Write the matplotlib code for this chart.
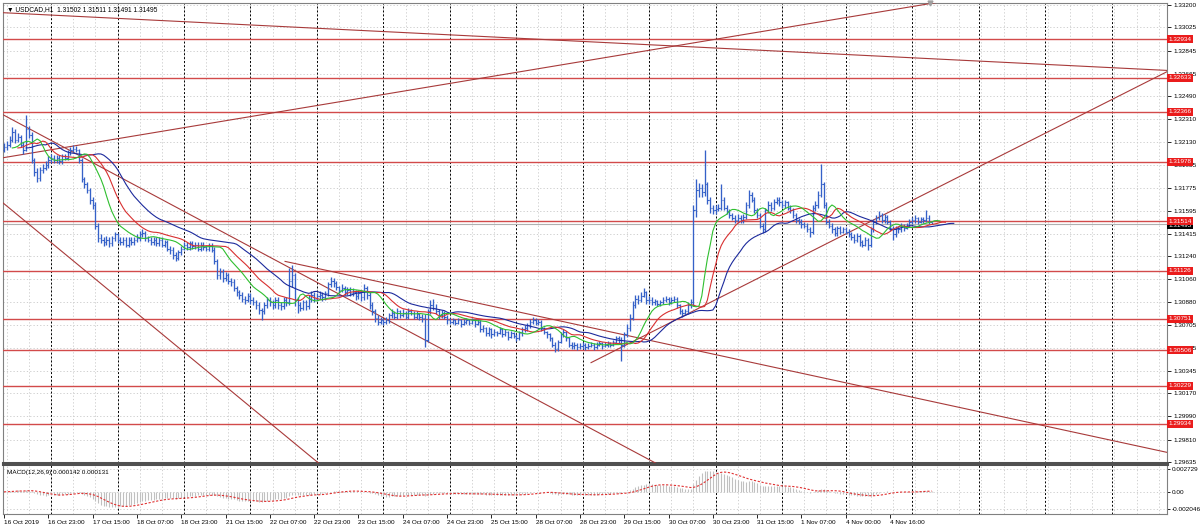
import numpy as np
import pandas as pd
import matplotlib
matplotlib.use('Agg')
import matplotlib.pyplot as plt

plt.rcParams['font.family'] = ['Liberation Sans', 'DejaVu Sans']

# USDCAD H1, one value per bar, 16 Oct 2019 07:00 .. 5 Nov 2019 07:00
closes = [
    # 16 Oct
    1.3209, 1.3211, 1.3215, 1.3221, 1.3215, 1.3217, 1.3211, 1.3207, 1.3223, 1.3219, 1.3199, 1.3190, 1.3185, 1.3191, 1.3193, 1.3195, 1.3199,
    # 17 Oct
    1.3201, 1.3199, 1.3201, 1.3198, 1.3202, 1.3201, 1.3205, 1.3207, 1.3208, 1.3207, 1.3199, 1.3184, 1.3180, 1.3176, 1.3168, 1.3164, 1.3148, 1.3138, 1.3137, 1.3135, 1.3137, 1.3134, 1.3138, 1.3141,
    # 18 Oct
    1.3137, 1.3135, 1.3137, 1.3133, 1.3137, 1.3135, 1.3137, 1.3138, 1.3141, 1.3142, 1.3138, 1.3137, 1.3135, 1.3137, 1.3134, 1.3137, 1.3133, 1.3135, 1.3130, 1.3129, 1.3125, 1.3123, 1.3127, 1.3130,
    # 21 Oct
    1.3133, 1.3131, 1.3134, 1.3132, 1.3133, 1.3130, 1.3133, 1.3131, 1.3130, 1.3132, 1.3129, 1.3120, 1.3109, 1.3112, 1.3107, 1.3109, 1.3105, 1.3104, 1.3099, 1.3096, 1.3094, 1.3091, 1.3090, 1.3093,
    # 22 Oct
    1.3090, 1.3088, 1.3086, 1.3082, 1.3081, 1.3086, 1.3090, 1.3088, 1.3086, 1.3090, 1.3086, 1.3085, 1.3090, 1.3088, 1.3105, 1.3109, 1.3090, 1.3086, 1.3084, 1.3088, 1.3085, 1.3091, 1.3094, 1.3091,
    # 23 Oct
    1.3093, 1.3094, 1.3092, 1.3095, 1.3102, 1.3105, 1.3103, 1.3100, 1.3098, 1.3099, 1.3096, 1.3098, 1.3095, 1.3096, 1.3093, 1.3095, 1.3092, 1.3099, 1.3094, 1.3086, 1.3081, 1.3076, 1.3073, 1.3074,
    # 24 Oct
    1.3073, 1.3074, 1.3078, 1.3080, 1.3077, 1.3081, 1.3078, 1.3080, 1.3077, 1.3081, 1.3080, 1.3077, 1.3079, 1.3077, 1.3076, 1.3059, 1.3081, 1.3086, 1.3084, 1.3081, 1.3078, 1.3080, 1.3077, 1.3074,
    # 25 Oct
    1.3073, 1.3074, 1.3072, 1.3074, 1.3071, 1.3073, 1.3074, 1.3072, 1.3074, 1.3071, 1.3073, 1.3067, 1.3068, 1.3064, 1.3067, 1.3063, 1.3065, 1.3064, 1.3067, 1.3063, 1.3065, 1.3061, 1.3064, 1.3062,
    # 28 Oct
    1.3060, 1.3064, 1.3067, 1.3068, 1.3070, 1.3073, 1.3074, 1.3072, 1.3073, 1.3068, 1.3065, 1.3063, 1.3060, 1.3055, 1.3052, 1.3057, 1.3063, 1.3065, 1.3060, 1.3055, 1.3054, 1.3055, 1.3053, 1.3054,
    # 29 Oct
    1.3055, 1.3053, 1.3054, 1.3055, 1.3053, 1.3055, 1.3056, 1.3054, 1.3055, 1.3056, 1.3055, 1.3057, 1.3060, 1.3059, 1.3055, 1.3063, 1.3068, 1.3076, 1.3086, 1.3091, 1.3090, 1.3093, 1.3096, 1.3090,
    # 30 Oct
    1.3090, 1.3088, 1.3089, 1.3087, 1.3088, 1.3090, 1.3091, 1.3088, 1.3090, 1.3091, 1.3086, 1.3081, 1.3080, 1.3081, 1.3086, 1.3088, 1.3160, 1.3176, 1.3177, 1.3174, 1.3180, 1.3168, 1.3162, 1.3160,
    # 31 Oct
    1.3161, 1.3162, 1.3168, 1.3162, 1.3159, 1.3156, 1.3154, 1.3152, 1.3154, 1.3152, 1.3155, 1.3164, 1.3172, 1.3168, 1.3160, 1.3156, 1.3148, 1.3145, 1.3160, 1.3164, 1.3162, 1.3166, 1.3168, 1.3166,
    # 1 Nov
    1.3164, 1.3166, 1.3162, 1.3160, 1.3156, 1.3152, 1.3151, 1.3149, 1.3148, 1.3145, 1.3143, 1.3162, 1.3164, 1.3172, 1.3180, 1.3164, 1.3151, 1.3148, 1.3145, 1.3142, 1.3146, 1.3143, 1.3145,
    # 4 Nov - 5 Nov
    1.3143, 1.3141, 1.3139, 1.3137, 1.3140, 1.3135, 1.3133, 1.3137, 1.3133, 1.3145, 1.3151, 1.3154, 1.3156, 1.3152, 1.3155, 1.3151, 1.3146, 1.3141, 1.3146, 1.3145, 1.3148, 1.3146, 1.3148, 1.3151, 1.3152, 1.3154, 1.3151, 1.3153, 1.3152, 1.3154, 1.3151, 1.31495,
]
highs = [
    1.3212, 1.3214, 1.3218, 1.3225, 1.3223, 1.3220, 1.3219, 1.3213, 1.3234, 1.3226, 1.3221, 1.3201, 1.3193, 1.3194, 1.3196, 1.3198, 1.3202,
    1.3204, 1.3203, 1.3203, 1.3203, 1.3204, 1.3204, 1.3207, 1.3209, 1.3211, 1.3210, 1.3208, 1.3201, 1.3186, 1.3182, 1.3177, 1.3170, 1.3166, 1.3150, 1.3141, 1.3139, 1.3140, 1.3139, 1.3140, 1.3143,
    1.3142, 1.3139, 1.3139, 1.3139, 1.3139, 1.3139, 1.3139, 1.3141, 1.3144, 1.3145, 1.3144, 1.3140, 1.3139, 1.3139, 1.3139, 1.3139, 1.3139, 1.3137, 1.3137, 1.3132, 1.3131, 1.3127, 1.3129, 1.3132,
    1.3135, 1.3135, 1.3136, 1.3136, 1.3135, 1.3135, 1.3135, 1.3135, 1.3133, 1.3134, 1.3134, 1.3131, 1.3122, 1.3115, 1.3114, 1.3112, 1.3111, 1.3107, 1.3106, 1.3101, 1.3098, 1.3096, 1.3093, 1.3095,
    1.3095, 1.3092, 1.3090, 1.3088, 1.3084, 1.3088, 1.3092, 1.3092, 1.3090, 1.3092, 1.3092, 1.3088, 1.3092, 1.3092, 1.3115, 1.3117, 1.3111, 1.3092, 1.3088, 1.3090, 1.3090, 1.3094, 1.3097, 1.3096,
    1.3095, 1.3097, 1.3096, 1.3097, 1.3104, 1.3108, 1.3107, 1.3105, 1.3101, 1.3102, 1.3101, 1.3100, 1.3100, 1.3099, 1.3098, 1.3098, 1.3097, 1.3102, 1.3101, 1.3096, 1.3088, 1.3083, 1.3078, 1.3077,
    1.3076, 1.3077, 1.3080, 1.3083, 1.3081, 1.3084, 1.3082, 1.3083, 1.3081, 1.3084, 1.3083, 1.3081, 1.3081, 1.3080, 1.3079, 1.3079, 1.3083, 1.3090, 1.3091, 1.3087, 1.3083, 1.3082, 1.3081, 1.3078,
    1.3076, 1.3076, 1.3075, 1.3076, 1.3075, 1.3075, 1.3076, 1.3075, 1.3076, 1.3075, 1.3075, 1.3074, 1.3070, 1.3069, 1.3069, 1.3068, 1.3067, 1.3066, 1.3069, 1.3068, 1.3067, 1.3066, 1.3066, 1.3065,
    1.3063, 1.3066, 1.3069, 1.3070, 1.3072, 1.3075, 1.3077, 1.3076, 1.3075, 1.3074, 1.3069, 1.3066, 1.3064, 1.3061, 1.3057, 1.3059, 1.3065, 1.3067, 1.3066, 1.3061, 1.3057, 1.3057, 1.3056, 1.3056,
    1.3057, 1.3056, 1.3056, 1.3057, 1.3056, 1.3057, 1.3058, 1.3057, 1.3057, 1.3058, 1.3057, 1.3059, 1.3062, 1.3062, 1.3061, 1.3065, 1.3071, 1.3079, 1.3089, 1.3094, 1.3094, 1.3096, 1.3099, 1.3097,
    1.3093, 1.3092, 1.3091, 1.3090, 1.3090, 1.3092, 1.3093, 1.3092, 1.3092, 1.3093, 1.3092, 1.3087, 1.3083, 1.3083, 1.3088, 1.3091, 1.3164, 1.3184, 1.3181, 1.3180, 1.3207, 1.3182, 1.3170, 1.3164,
    1.3164, 1.3165, 1.3180, 1.3170, 1.3164, 1.3161, 1.3158, 1.3156, 1.3157, 1.3156, 1.3157, 1.3166, 1.3176, 1.3174, 1.3170, 1.3162, 1.3158, 1.3150, 1.3162, 1.3167, 1.3166, 1.3169, 1.3170, 1.3170,
    1.3168, 1.3168, 1.3167, 1.3164, 1.3162, 1.3158, 1.3154, 1.3153, 1.3151, 1.3150, 1.3147, 1.3164, 1.3167, 1.3175, 1.3196, 1.3182, 1.3166, 1.3153, 1.3150, 1.3147, 1.3148, 1.3148, 1.3147,
    1.3147, 1.3145, 1.3143, 1.3141, 1.3142, 1.3141, 1.3137, 1.3139, 1.3138, 1.3147, 1.3153, 1.3156, 1.3159, 1.3158, 1.3157, 1.3156, 1.3152, 1.3148, 1.3148, 1.3148, 1.3150, 1.3149, 1.3150, 1.3153, 1.3155, 1.3156, 1.3155, 1.3155, 1.3155, 1.3160, 1.3156, 1.31511,
]
lows = [
    1.3205, 1.3207, 1.3209, 1.3213, 1.3212, 1.3213, 1.3209, 1.3204, 1.3206, 1.3216, 1.3197, 1.3187, 1.3182, 1.3183, 1.3189, 1.3191, 1.3193,
    1.3197, 1.3197, 1.3197, 1.3196, 1.3196, 1.3199, 1.3199, 1.3203, 1.3205, 1.3205, 1.3197, 1.3182, 1.3177, 1.3173, 1.3165, 1.3161, 1.3145, 1.3135, 1.3134, 1.3132, 1.3133, 1.3131, 1.3132, 1.3136,
    1.3134, 1.3133, 1.3133, 1.3131, 1.3131, 1.3133, 1.3133, 1.3135, 1.3136, 1.3139, 1.3136, 1.3135, 1.3133, 1.3133, 1.3132, 1.3132, 1.3131, 1.3131, 1.3128, 1.3126, 1.3122, 1.3120, 1.3121, 1.3125,
    1.3129, 1.3129, 1.3129, 1.3130, 1.3130, 1.3128, 1.3128, 1.3129, 1.3128, 1.3128, 1.3127, 1.3118, 1.3106, 1.3106, 1.3104, 1.3105, 1.3102, 1.3101, 1.3097, 1.3093, 1.3091, 1.3088, 1.3087, 1.3088,
    1.3087, 1.3086, 1.3083, 1.3079, 1.3074, 1.3079, 1.3084, 1.3085, 1.3083, 1.3084, 1.3083, 1.3082, 1.3083, 1.3085, 1.3086, 1.3100, 1.3085, 1.3080, 1.3081, 1.3082, 1.3082, 1.3083, 1.3088, 1.3088,
    1.3089, 1.3091, 1.3089, 1.3090, 1.3093, 1.3100, 1.3100, 1.3098, 1.3095, 1.3096, 1.3094, 1.3094, 1.3093, 1.3093, 1.3090, 1.3091, 1.3089, 1.3090, 1.3091, 1.3083, 1.3078, 1.3073, 1.3070, 1.3071,
    1.3070, 1.3071, 1.3072, 1.3076, 1.3075, 1.3075, 1.3076, 1.3077, 1.3075, 1.3075, 1.3078, 1.3075, 1.3075, 1.3074, 1.3073, 1.3053, 1.3057, 1.3079, 1.3082, 1.3079, 1.3075, 1.3076, 1.3075, 1.3071,
    1.3071, 1.3071, 1.3070, 1.3071, 1.3069, 1.3070, 1.3071, 1.3070, 1.3071, 1.3069, 1.3070, 1.3065, 1.3065, 1.3062, 1.3062, 1.3060, 1.3062, 1.3062, 1.3063, 1.3061, 1.3062, 1.3059, 1.3060, 1.3060,
    1.3058, 1.3059, 1.3062, 1.3065, 1.3066, 1.3068, 1.3071, 1.3070, 1.3070, 1.3066, 1.3063, 1.3060, 1.3058, 1.3053, 1.3049, 1.3050, 1.3056, 1.3061, 1.3058, 1.3053, 1.3052, 1.3052, 1.3051, 1.3052,
    1.3052, 1.3051, 1.3052, 1.3053, 1.3051, 1.3052, 1.3054, 1.3052, 1.3053, 1.3053, 1.3053, 1.3054, 1.3056, 1.3056, 1.3042, 1.3053, 1.3061, 1.3066, 1.3074, 1.3084, 1.3087, 1.3088, 1.3092, 1.3087,
    1.3087, 1.3086, 1.3086, 1.3085, 1.3085, 1.3087, 1.3088, 1.3086, 1.3087, 1.3088, 1.3084, 1.3079, 1.3077, 1.3078, 1.3079, 1.3084, 1.3085, 1.3155, 1.3170, 1.3170, 1.3171, 1.3165, 1.3158, 1.3157,
    1.3157, 1.3159, 1.3160, 1.3160, 1.3157, 1.3154, 1.3152, 1.3150, 1.3150, 1.3150, 1.3150, 1.3153, 1.3162, 1.3166, 1.3158, 1.3154, 1.3146, 1.3142, 1.3143, 1.3158, 1.3159, 1.3160, 1.3165, 1.3163,
    1.3162, 1.3162, 1.3160, 1.3158, 1.3154, 1.3150, 1.3149, 1.3146, 1.3146, 1.3143, 1.3139, 1.3141, 1.3159, 1.3162, 1.3170, 1.3162, 1.3149, 1.3146, 1.3142, 1.3140, 1.3140, 1.3141, 1.3142,
    1.3141, 1.3139, 1.3137, 1.3134, 1.3135, 1.3132, 1.3131, 1.3132, 1.3129, 1.3131, 1.3143, 1.3149, 1.3152, 1.3150, 1.3150, 1.3149, 1.3144, 1.3137, 1.3139, 1.3142, 1.3143, 1.3144, 1.3145, 1.3147, 1.3149, 1.3150, 1.3149, 1.3150, 1.3150, 1.3151, 1.3149, 1.31491,
]
first_open = 1.3207

title = '\u25bc USDCAD,H1  1.31502 1.31511 1.31491 1.31495'
macd_title = 'MACD(12,26,9) 0.000142 0.000131'
bid = 1.31495

# horizontal support / resistance lines
levels = [1.32934, 1.32633, 1.32366, 1.31978, 1.31514, 1.31126, 1.30751, 1.30506, 1.30229, 1.29934]
# trend lines: two anchors (bar, price) and the bar where the line starts
trend_lines = [
    ((0, 1.3314), (420, 1.3269), -1),
    ((0, 1.3201), (334, 1.3321), -1),
    ((0, 1.3165), (113.4, 1.2963), -1),
    ((0, 1.3234), (235, 1.2963), -1),
    ((101.5, 1.3120), (420, 1.2971), 101.5),
    ((212, 1.3041), (420, 1.3268), 212),
]

price_ticks = [1.33200, 1.33025, 1.32845, 1.32665, 1.32490, 1.32310, 1.32130, 1.31955, 1.31775, 1.31595,
               1.31415, 1.31240, 1.31060, 1.30880, 1.30705, 1.30525, 1.30345, 1.30170, 1.29990, 1.29810, 1.29635]
macd_ticks = [0.002729, 0.0, -0.002046]
macd_tick_labels = ['0.002729', '0.00', '-0.002046']

time_labels = ['16 Oct 2019', '16 Oct 23:00', '17 Oct 15:00', '18 Oct 07:00', '18 Oct 23:00', '21 Oct 15:00',
               '22 Oct 07:00', '22 Oct 23:00', '23 Oct 15:00', '24 Oct 07:00', '24 Oct 23:00', '25 Oct 15:00',
               '28 Oct 07:00', '28 Oct 23:00', '29 Oct 15:00', '30 Oct 07:00', '30 Oct 23:00', '31 Oct 15:00',
               '1 Nov 07:00', '4 Nov 00:00', '4 Nov 16:00']
day_starts = [17, 41, 65, 89, 113, 137, 161, 185, 209, 233, 257, 281, 304, 328, 352, 376, 400]

# ---------------------------------------------------------------
c = pd.Series(closes)
h = pd.Series(highs)
l = pd.Series(lows)
o = pd.Series([first_open] + closes[:-1])
n = len(c)
x = np.arange(n)

# alligator (smoothed MAs of the median price, shifted forward)
median = (h + l) / 2
jaw = median.ewm(alpha=1 / 13, adjust=False).mean()
teeth = median.ewm(alpha=1 / 8, adjust=False).mean()
lips = median.ewm(alpha=1 / 5, adjust=False).mean()

macd = c.ewm(span=12, adjust=False).mean() - c.ewm(span=26, adjust=False).mean()
signal = macd.rolling(9, min_periods=1).mean()

W, H = 1200, 529
XMIN, XMAX = -0.36, 420.0
grid_col = '#c8c8c8'
grid_ls = (0, (1.5, 2.5))
sep_ls = (0, (2, 2))
bar_col = '#3561c8'
fs = 4.6

fig = plt.figure(figsize=(W / 100, H / 100), dpi=100)
ax = fig.add_axes([3 / W, 1 - 463 / H, 1164 / W, 460 / H])
ax2 = fig.add_axes([3 / W, 1 - 514 / H, 1164 / W, 50 / H])

# main price window
ax.set_xlim(XMIN, XMAX)
ax.set_ylim(1.29627, 1.33216)
ax.set_xticks(np.arange(1, 421, 8))
ax.tick_params(axis='x', length=0, labelbottom=False)
ax.yaxis.tick_right()
ax.set_yticks(price_ticks)
ax.set_yticklabels([f'{p:.5f}' for p in price_ticks])
ax.tick_params(axis='y', length=3, width=0.6, pad=2, labelsize=fs)
ax.grid(True, color=grid_col, ls=grid_ls, lw=0.6)
for d in day_starts:
    ax.axvline(d, color='black', ls=sep_ls, lw=0.7, zorder=1.6)

ax.axhline(bid, color='#b0b0b0', lw=0.8, zorder=2)
for lv in levels:
    ax.axhline(lv, color='#d24a4a', lw=1.0, zorder=3)

for (x1, y1), (x2, y2), start in trend_lines:
    k = (y2 - y1) / (x2 - x1)
    xs = np.array([max(start, XMIN - 2), XMAX + 2])
    ax.plot(xs, y1 + k * (xs - x1), color='#a83a3a', lw=0.8, zorder=3)

ax.vlines(x, l, h, color=bar_col, lw=0.95, zorder=4)
ax.hlines(o, x - 0.45, x, color=bar_col, lw=0.8, zorder=4)
ax.hlines(c, x, x + 0.45, color=bar_col, lw=0.8, zorder=4)

ax.plot(x + 8, jaw, color='#1c2a9c', lw=0.8, zorder=5)
ax.plot(x + 5, teeth, color='#d83030', lw=0.8, zorder=5)
ax.plot(x + 3, lips, color='#2fbf2f', lw=0.8, zorder=5)

ax.plot([334.4], [1.33216], marker='v', color='#a0a0a0', ms=3.5, clip_on=False, zorder=6)

ax.text(0.0035, 0.993, title, transform=ax.transAxes, va='top', ha='left', fontsize=fs + 0.2)

ytr = ax.get_yaxis_transform()
ax.text(1.0012, bid - 0.00014, f'{bid:.5f}', transform=ytr, color='white', fontsize=fs, va='center', ha='left',
        bbox=dict(boxstyle='square,pad=0.2', fc='black', ec='none'), clip_on=False, zorder=6)
for lv in levels:
    ax.text(1.0012, lv, f'{lv:.5f}', transform=ytr, color='white', fontsize=fs, va='center', ha='left',
            bbox=dict(boxstyle='square,pad=0.25', fc='#ea1c1c', ec='none'), clip_on=False, zorder=7)

for s in ['left', 'top', 'right']:
    ax.spines[s].set_color('#808080')
    ax.spines[s].set_linewidth(0.8)
ax.spines['bottom'].set_color('#505050')
ax.spines['bottom'].set_linewidth(2.2)

# MACD window
ax2.set_xlim(XMIN, XMAX)
ax2.set_ylim(-0.002643, 0.003326)
ax2.vlines(x, 0, macd, color='#c0c0c0', lw=0.8, zorder=3)
ax2.plot(x, signal, color='#e03030', ls=(0, (2, 1.5)), lw=0.8, zorder=4)
for g in np.arange(1, 421, 8):
    ax2.axvline(g, color=grid_col, ls=grid_ls, lw=0.6, zorder=1)
for t in macd_ticks:
    ax2.axhline(t, color=grid_col, ls=grid_ls, lw=0.6, zorder=1)
for d in day_starts:
    ax2.axvline(d, color='black', ls=sep_ls, lw=0.7, zorder=1.6)

ax2.yaxis.tick_right()
ax2.set_yticks(macd_ticks)
ax2.set_yticklabels(macd_tick_labels)
ax2.tick_params(axis='y', length=2, width=0.6, pad=1.5, labelsize=fs)
ax2.set_xticks(np.arange(0, 16 * len(time_labels), 16))
ax2.set_xticklabels(time_labels, ha='left')
ax2.tick_params(axis='x', length=3, width=0.6, pad=1.5, labelsize=fs)
ax2.text(0.0035, 0.88, macd_title, transform=ax2.transAxes, va='top', ha='left', fontsize=fs)

for s in ['left', 'right', 'bottom']:
    ax2.spines[s].set_color('#808080')
    ax2.spines[s].set_linewidth(0.8)
ax2.spines['top'].set_color('#505050')
ax2.spines['top'].set_linewidth(2.2)

fig.savefig('out.png', dpi=100, facecolor='white')
